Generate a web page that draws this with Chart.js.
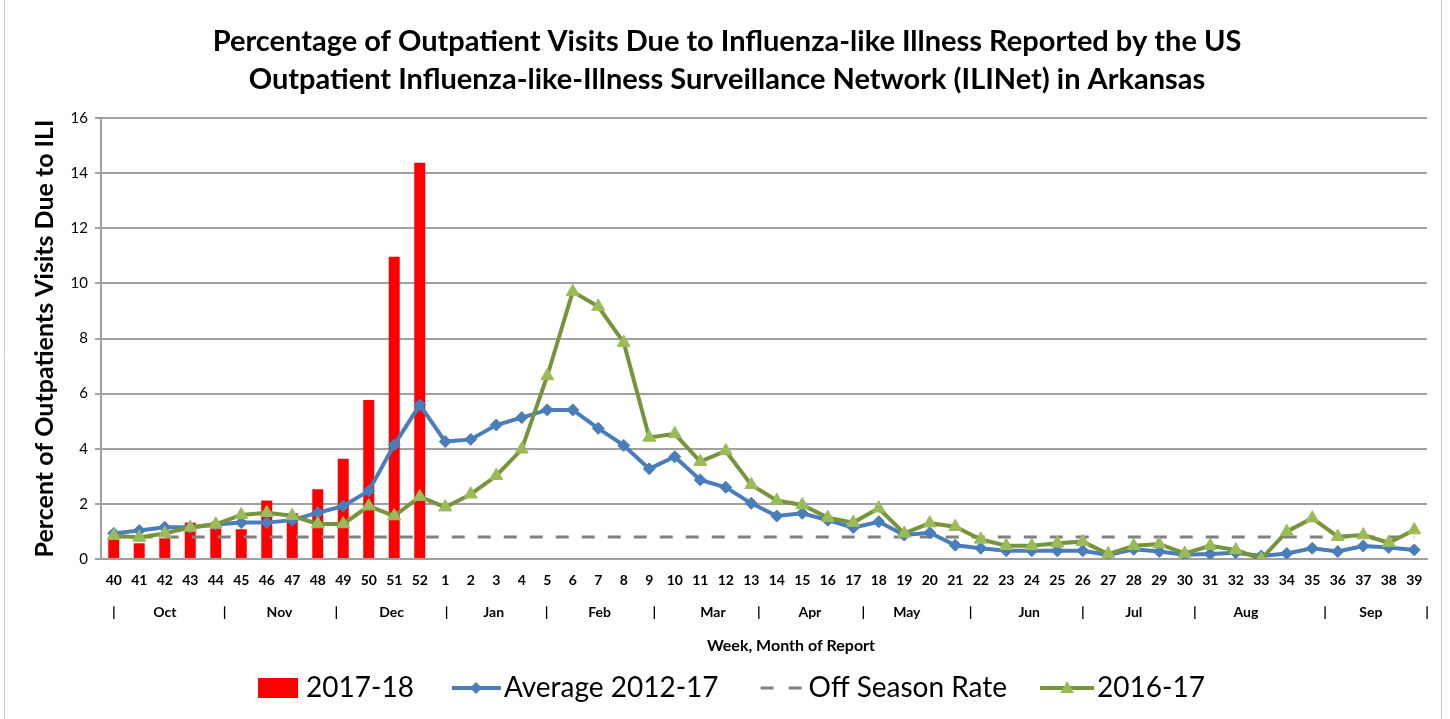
<!DOCTYPE html>
<html>
<head>
<meta charset="utf-8">
<title>ILINet Arkansas</title>
<script src="https://cdn.jsdelivr.net/npm/chart.js@4.4.1/dist/chart.umd.min.js"></script>
<style>
  html, body { margin: 0; padding: 0; background: #fff; }
  #wrap { width: 1450px; height: 719px; }
</style>
</head>
<body>
<div id="wrap"><canvas id="iliChart" width="1450" height="719"></canvas></div>
<script>
// week of report (MMWR week), season runs week 40 -> week 39
const weeks = ['40', '41', '42', '43', '44', '45', '46', '47', '48', '49', '50', '51', '52',
    '1', '2', '3', '4', '5', '6', '7', '8', '9', '10', '11', '12', '13',
    '14', '15', '16', '17', '18', '19', '20', '21', '22', '23', '24', '25', '26',
    '27', '28', '29', '30', '31', '32', '33', '34', '35', '36', '37', '38', '39'];

// 2017-18 season so far (weeks 40-52)
const season2017 = [0.70, 0.57, 0.75, 1.32, 1.11, 1.08, 2.12, 1.66, 2.53, 3.64, 5.77, 10.97, 14.38];

const avg2012to17 = [0.93, 1.03, 1.15, 1.15, 1.25, 1.32, 1.32, 1.41, 1.68, 1.92, 2.47, 4.14, 5.59,
    4.26, 4.34, 4.86, 5.13, 5.41, 5.41, 4.74, 4.12, 3.27, 3.71, 2.87, 2.60, 2.02,
    1.56, 1.66, 1.41, 1.14, 1.35, 0.87, 0.95, 0.50, 0.39, 0.30, 0.30, 0.30, 0.30,
    0.15, 0.35, 0.27, 0.15, 0.18, 0.23, 0.11, 0.20, 0.39, 0.27, 0.47, 0.42, 0.33];

const season2016 = [0.85, 0.78, 0.93, 1.14, 1.26, 1.60, 1.68, 1.57, 1.27, 1.27, 1.92, 1.56, 2.26,
    1.88, 2.35, 3.02, 3.98, 6.64, 9.70, 9.16, 7.85, 4.41, 4.54, 3.53, 3.92, 2.69,
    2.12, 1.96, 1.50, 1.32, 1.84, 0.93, 1.30, 1.17, 0.71, 0.48, 0.48, 0.57, 0.63,
    0.18, 0.48, 0.54, 0.20, 0.48, 0.33, 0.00, 0.99, 1.48, 0.81, 0.87, 0.59, 1.05];

const offSeasonRate = 0.8;

// month row under the week numbers (positions in week-index units)
const monthNames = ['Oct', 'Nov', 'Dec', 'Jan', 'Feb', 'Mar', 'Apr', 'May', 'Jun', 'Jul', 'Aug', 'Sep'];
const monthCenters = [2.0, 6.5, 10.9, 14.9, 19.05, 23.5, 27.3, 31.1, 35.9, 40.0, 44.4, 49.3];
const monthDividers = [0, 4.35, 8.73, 13.05, 16.97, 21.2, 25.3, 29.4, 33.6, 38.0, 42.4, 47.5, 51.5];

const titleLines = ['Percentage of Outpatient Visits Due to Influenza-like Illness Reported by the US',
                    'Outpatient Influenza-like-Illness Surveillance Network (ILINet) in Arkansas'];

const yTicks = { min: 0, max: 16, step: 2 };

const RED = '#ff0000';
const BLUE = '#4a7ebb';
const GREEN_LINE = '#77933c';
const GREEN_MARK = '#9bbb59';
const GRAY = '#808080';
const GRID = '#a0a0a0';
const FONT = 'Lato, "Liberation Sans", sans-serif';

Chart.defaults.font.family = FONT;
Chart.defaults.color = '#000';

// legend symbols: drawn right-aligned in a canvas wider than the legend box
function legendIcon(draw) {
    const c = document.createElement('canvas');
    c.width = 84;
    c.height = 26;
    draw(c.getContext('2d'));
    return c;
}

const iconBar = legendIcon(ctx => {
    ctx.fillStyle = RED;
    ctx.fillRect(38, 3, 40, 20);
});
const iconAvg = legendIcon(ctx => {
    ctx.strokeStyle = BLUE;
    ctx.lineWidth = 4;
    ctx.beginPath(); ctx.moveTo(34, 13); ctx.lineTo(83, 13); ctx.stroke();
    ctx.fillStyle = BLUE;
    ctx.beginPath();
    ctx.moveTo(58, 7); ctx.lineTo(64, 13); ctx.lineTo(58, 19); ctx.lineTo(52, 13);
    ctx.closePath(); ctx.fill();
});
const iconOff = legendIcon(ctx => {
    ctx.strokeStyle = GRAY;
    ctx.lineWidth = 3;
    ctx.setLineDash([13, 15]);
    ctx.beginPath(); ctx.moveTo(38, 13); ctx.lineTo(80, 13); ctx.stroke();
});
const iconPrev = legendIcon(ctx => {
    ctx.strokeStyle = GREEN_LINE;
    ctx.lineWidth = 4;
    ctx.beginPath(); ctx.moveTo(29, 13); ctx.lineTo(83, 13); ctx.stroke();
    ctx.fillStyle = GREEN_MARK;
    ctx.beginPath();
    ctx.moveTo(56, 6); ctx.lineTo(63, 18); ctx.lineTo(49, 18);
    ctx.closePath(); ctx.fill();
});

const textPlugin = {
    id: 'textBits',
    afterDraw(chart) {
        const { ctx, chartArea, scales: { x } } = chart;
        ctx.save();
        ctx.fillStyle = '#000';
        ctx.textAlign = 'center';
        ctx.textBaseline = 'middle';

        // two-line title
        ctx.font = 'bold 29px ' + FONT;
        titleLines.forEach((t, i) => ctx.fillText(t, chart.width / 2 + 2, 42 + i * 38));

        // month row
        const rowY = x.top + 53;
        ctx.font = 'bold 14px ' + FONT;
        monthDividers.forEach(v => ctx.fillText('|', x.getPixelForValue(v), rowY));
        monthNames.forEach((m, i) => ctx.fillText(m, x.getPixelForValue(monthCenters[i]), rowY));

        // axis title sits a bit right of the plot centre in the original
        ctx.font = 'bold 16px ' + FONT;
        ctx.fillText('Week, Month of Report', (chartArea.left + chartArea.right) / 2 + 27, x.top + 87);

        // outer frame lines
        ctx.strokeStyle = '#c8c8c8';
        ctx.lineWidth = 1;
        ctx.beginPath();
        ctx.moveTo(4.5, 0); ctx.lineTo(4.5, chart.height);
        ctx.moveTo(1441.5, 0); ctx.lineTo(1441.5, chart.height);
        ctx.stroke();
        ctx.restore();
    }
};

const ctx = document.getElementById('iliChart').getContext('2d');
const iliChart = new Chart(ctx, {
    type: 'bar',
    data: {
        labels: weeks,
        datasets: [
            {
                type: 'line',
                label: '2016-17',
                data: season2016,
                borderColor: GREEN_LINE,
                borderWidth: 4,
                pointStyle: 'triangle',
                pointRadius: 7.5,
                pointBackgroundColor: GREEN_MARK,
                pointBorderColor: GREEN_MARK,
                pointBorderWidth: 1,
                tension: 0,
                order: 0
            },
            {
                type: 'line',
                label: 'Average 2012-17',
                data: avg2012to17,
                borderColor: BLUE,
                borderWidth: 4,
                pointStyle: 'rectRot',
                pointRadius: 6,
                pointBackgroundColor: BLUE,
                pointBorderColor: BLUE,
                pointBorderWidth: 1,
                tension: 0,
                order: 1
            },
            {
                type: 'line',
                label: 'Off Season Rate',
                data: [{ x: weeks[0], y: offSeasonRate }, { x: weeks[weeks.length - 1], y: offSeasonRate }],
                borderColor: GRAY,
                borderWidth: 3,
                borderDash: [13, 13],
                pointRadius: 0,
                order: 2
            },
            {
                label: '2017-18',
                data: season2017,
                backgroundColor: RED,
                barPercentage: 0.86,
                categoryPercentage: 0.5,
                order: 3
            }
        ]
    },
    options: {
        responsive: false,
        animation: false,
        layout: { padding: { left: 10, right: 23, top: 118, bottom: 7 } },
        plugins: {
            title: { display: false },
            legend: {
                position: 'bottom',
                labels: {
                    usePointStyle: true,
                    pointStyleWidth: 60,
                    padding: 16,
                    font: { size: 28 },
                    color: '#000',
                    generateLabels: () => [
                        { text: '2017-18', pointStyle: iconBar, fontColor: '#000', lineWidth: 0, datasetIndex: 3 },
                        { text: 'Average 2012-17', pointStyle: iconAvg, fontColor: '#000', lineWidth: 0, datasetIndex: 1 },
                        { text: 'Off Season Rate', pointStyle: iconOff, fontColor: '#000', lineWidth: 0, datasetIndex: 2 },
                        { text: '2016-17', pointStyle: iconPrev, fontColor: '#000', lineWidth: 0, datasetIndex: 0 }
                    ]
                }
            },
            tooltip: { enabled: false }
        },
        scales: {
            x: {
                grid: { display: false, drawTicks: false },
                border: { display: true, color: GRID, width: 2 },
                ticks: {
                    autoSkip: false,
                    maxRotation: 0,
                    padding: 13,
                    font: { size: 14, weight: 'bold' },
                    color: '#000'
                },
                afterFit: scale => { scale.height = 99; }
            },
            y: {
                min: yTicks.min,
                max: yTicks.max,
                grid: { color: GRID, lineWidth: 2, tickLength: 6, tickColor: GRID },
                border: { display: true, color: GRID, width: 2 },
                ticks: {
                    stepSize: yTicks.step,
                    padding: 7,
                    font: { size: 15 },
                    color: '#000'
                },
                title: {
                    display: true,
                    text: 'Percent of Outpatients Visits Due to ILI',
                    font: { size: 25, weight: 'bold' },
                    color: '#000',
                    padding: { top: 20, bottom: 0 }
                },
                afterFit: scale => { scale.width = 91; }
            }
        }
    },
    plugins: [textPlugin]
});
</script>
</body>
</html>
